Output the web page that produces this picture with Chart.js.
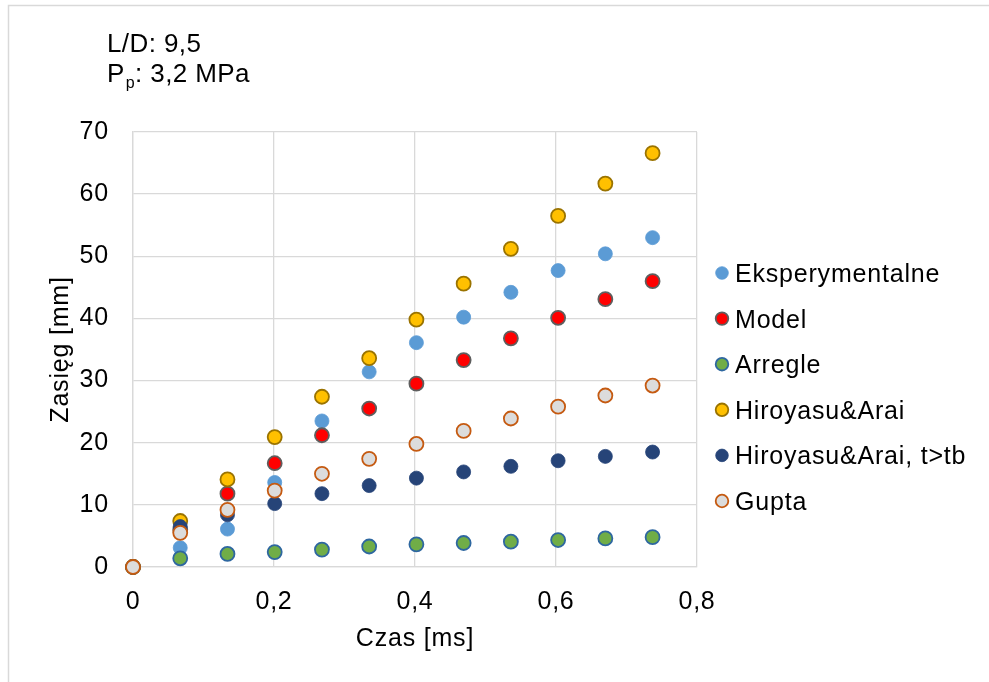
<!DOCTYPE html>
<html><head><meta charset="utf-8">
<script src="https://cdn.jsdelivr.net/npm/chart.js@4"></script>
<style>html,body{margin:0;padding:0;background:#fff;}</style>
</head><body>
<canvas id="c" width="989" height="682" style="display:block;width:989px;height:682px"></canvas>
<script>
// ---- data ----
const timeMs = [0, 0.067, 0.134, 0.201, 0.268, 0.335, 0.402, 0.469, 0.536, 0.603, 0.670, 0.737];
const eksperymentalne = [0, 3.1, 6.1, 13.6, 23.5, 31.4, 36.1, 40.2, 44.2, 47.7, 50.4, 53.0];
const model = [0, 6.0, 11.8, 16.7, 21.2, 25.5, 29.5, 33.3, 36.8, 40.1, 43.1, 46.0];
const arregle = [0, 1.4, 2.1, 2.4, 2.8, 3.3, 3.65, 3.86, 4.07, 4.34, 4.6, 4.8];
const hiroyasu = [0, 7.4, 14.1, 20.9, 27.4, 33.6, 39.8, 45.6, 51.2, 56.5, 61.7, 66.6];
const hiroyasuTb = [0, 6.5, 8.4, 10.2, 11.8, 13.1, 14.3, 15.3, 16.2, 17.1, 17.8, 18.5];
const gupta = [0, 5.5, 9.2, 12.3, 15.0, 17.4, 19.8, 21.9, 23.9, 25.8, 27.6, 29.2];
const seriesNames = ['Eksperymentalne', 'Model', 'Arregle', 'Hiroyasu&Arai', 'Hiroyasu&Arai, t>tb', 'Gupta'];
const xTickLabels = ['0', '0,2', '0,4', '0,6', '0,8'];
const yTickLabels = ['0', '10', '20', '30', '40', '50', '60', '70'];
const xTitle = 'Czas [ms]';
const yTitle = 'Zasięg [mm]';
const noteLine1 = 'L/D: 9,5';
const noteLine2 = ['P', 'p', ': 3,2 MPa'];

const FONT = "'Liberation Sans', Arial, sans-serif";
const SPACING = '0.8px';
const styles = [
  {bg:'#5B9BD5', bd:'#5B9BD5', bw:0.8},
  {bg:'#FF0000', bd:'#5E5E5E', bw:1.8},
  {bg:'#70AD47', bd:'#2E67A0', bw:1.8},
  {bg:'#FFC000', bd:'#9A7300', bw:1.8},
  {bg:'#264478', bd:'#264478', bw:0.8},
  {bg:'#DCDCDC', bd:'#C55A11', bw:1.8}
];
const allSeries = [eksperymentalne, model, arregle, hiroyasu, hiroyasuTb, gupta];
const datasets = allSeries.map((vals, i) => ({
  label: seriesNames[i],
  data: vals.map((v, k) => ({x: timeMs[k], y: v})),
  backgroundColor: styles[i].bg,
  borderColor: styles[i].bd,
  borderWidth: styles[i].bw,
  pointRadius: 7,
  pointHoverRadius: 7,
  showLine: false,
  clip: false,
  order: allSeries.length - 1 - i
}));

const decor = {
  id: 'decor',
  beforeDraw(chart) {
    const ctx = chart.ctx;
    ctx.save();
    ctx.fillStyle = '#fff';
    ctx.fillRect(0, 0, chart.width, chart.height);
    ctx.strokeStyle = '#D9D9D9';
    ctx.lineWidth = 1.5;
    ctx.beginPath();
    ctx.moveTo(8.5, 682); ctx.lineTo(8.5, 5.5); ctx.lineTo(989, 5.5);
    ctx.stroke();
    ctx.restore();
    ctx.letterSpacing = SPACING;
  },
  afterDraw(chart) {
    const ctx = chart.ctx;
    ctx.save();
    ctx.fillStyle = '#000';
    ctx.textBaseline = 'alphabetic';
    ctx.textAlign = 'left';
    ctx.letterSpacing = '0.4px';
    ctx.font = '26px ' + FONT;
    ctx.fillText(noteLine1, 107, 52);
    let x = 107;
    ctx.fillText(noteLine2[0], x, 82);
    x += ctx.measureText(noteLine2[0]).width;
    ctx.font = '16px ' + FONT;
    ctx.fillText(noteLine2[1], x + 1, 88);
    x += ctx.measureText(noteLine2[1]).width + 1;
    ctx.font = '26px ' + FONT;
    ctx.fillText(noteLine2[2], x, 82);
    // legend
    ctx.letterSpacing = SPACING;
    ctx.font = '25px ' + FONT;
    chart.data.datasets.forEach((ds, i) => {
      const cy = 273 + i * 45.6;
      ctx.beginPath();
      ctx.arc(722, cy, 6.3, 0, Math.PI * 2);
      ctx.fillStyle = ds.backgroundColor;
      ctx.fill();
      ctx.lineWidth = ds.borderWidth;
      ctx.strokeStyle = ds.borderColor;
      ctx.stroke();
      ctx.fillStyle = '#000';
      ctx.fillText(ds.label, 735, cy + 9);
    });
    ctx.restore();
  }
};

new Chart(document.getElementById('c'), {
  type: 'scatter',
  data: {datasets},
  plugins: [decor],
  options: {
    responsive: false,
    animation: false,
    devicePixelRatio: 1,
    layout: {padding: {top: 132, right: 292, left: 0, bottom: 0}},
    plugins: {legend: {display: false}, tooltip: {enabled: false}},
    scales: {
      x: {
        type: 'linear', min: 0, max: 0.8,
        afterFit(s) { s.height = 115; },
        ticks: {stepSize: 0.2, padding: 20, color: '#000', font: {family: FONT, size: 25},
          callback: (v, i) => xTickLabels[i]},
        grid: {color: '#D9D9D9', lineWidth: 1.3, drawTicks: false},
        border: {color: '#D9D9D9', width: 1.3},
        title: {display: true, text: xTitle, color: '#000', font: {family: FONT, size: 25}, padding: {top: 0, bottom: 28}}
      },
      y: {
        type: 'linear', min: 0, max: 70,
        afterFit(s) { s.width = 133; },
        ticks: {stepSize: 10, padding: 24, color: '#000', font: {family: FONT, size: 25},
          callback: (v, i) => yTickLabels[i]},
        grid: {color: '#D9D9D9', lineWidth: 1.3, drawTicks: false},
        border: {color: '#D9D9D9', width: 1.3},
        title: {display: true, text: yTitle, color: '#000', font: {family: FONT, size: 25}, padding: {top: 46, bottom: 0}}
      }
    }
  }
});
</script>
</body></html>
